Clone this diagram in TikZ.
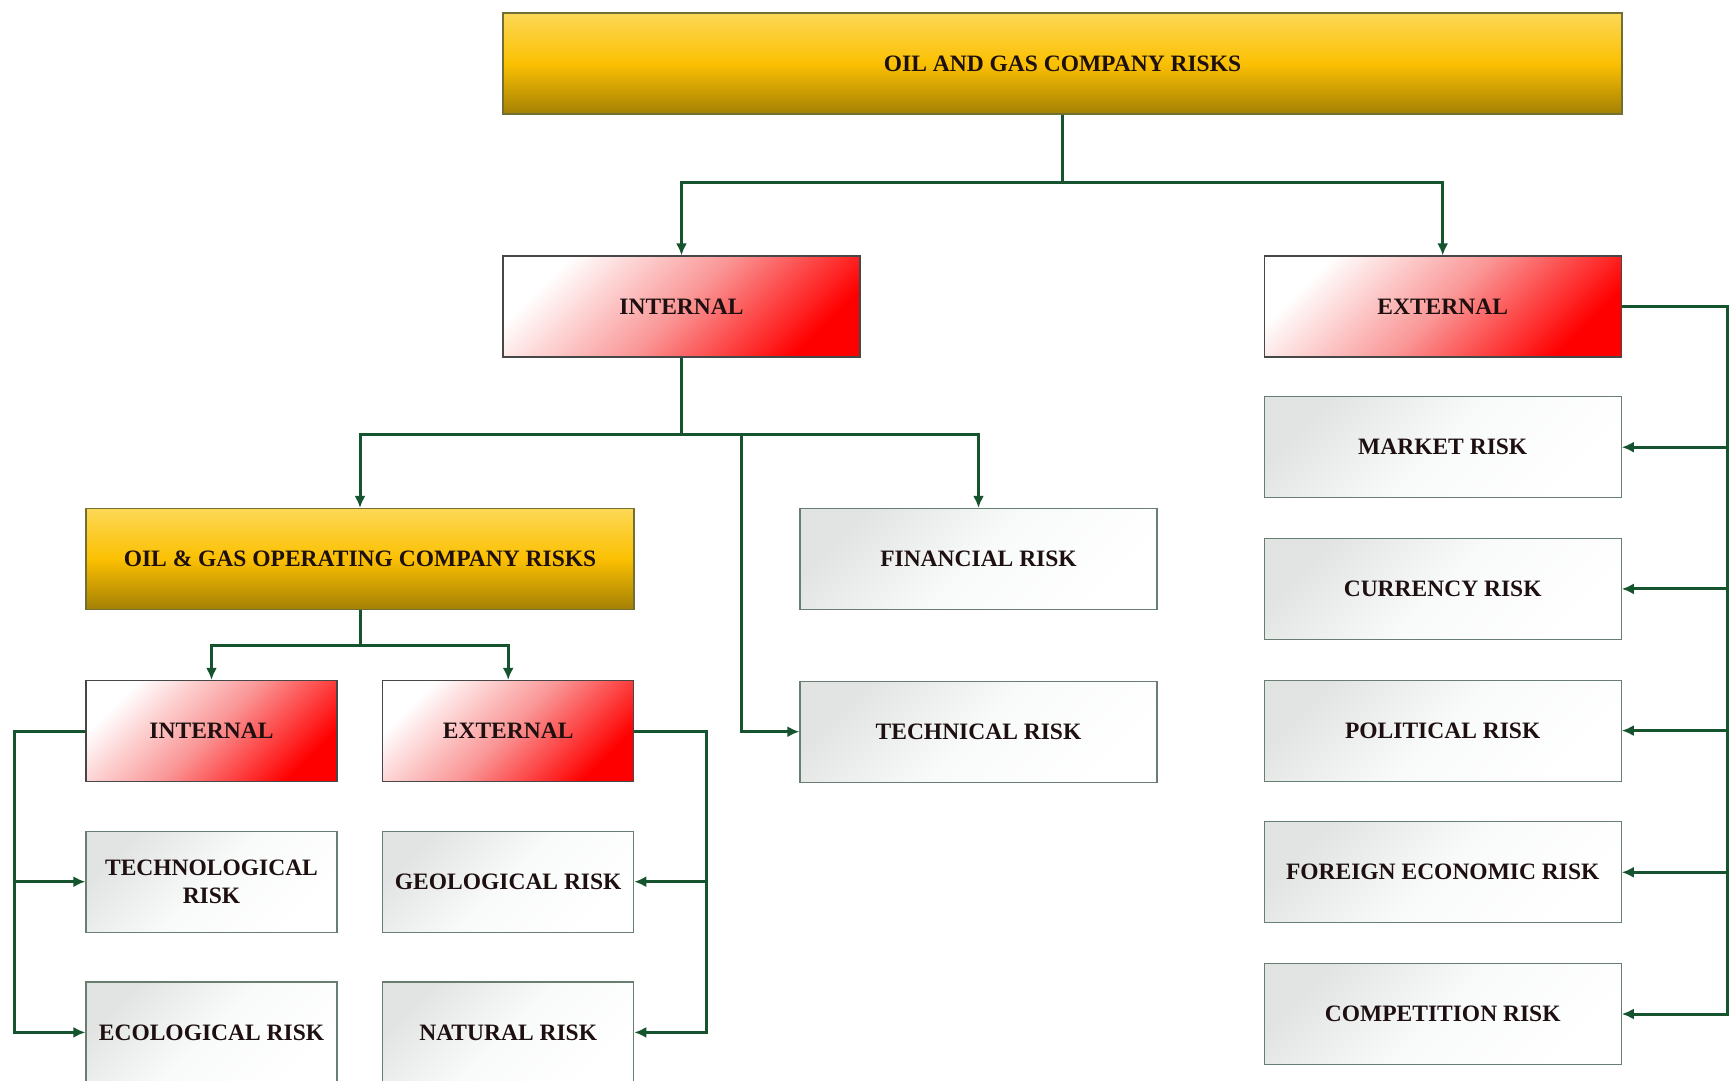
\documentclass[tikz,border=0pt]{standalone}
\usepackage{fontspec}
\setmainfont{Liberation Serif}
\usepackage{xcolor}
\usepackage{tikz}
\usetikzlibrary{arrows.meta,positioning}

\definecolor{lnk}{RGB}{22,84,48}
\definecolor{txt}{RGB}{30,16,16}
\definecolor{oroT}{RGB}{253,216,86}
\definecolor{oroM}{RGB}{251,192,2}
\definecolor{oroD}{RGB}{164,128,4}
\definecolor{oroB}{RGB}{112,112,52}
\definecolor{rojM}{RGB}{250,150,150}
\definecolor{griT}{RGB}{226,228,228}
\definecolor{griM}{RGB}{249,250,250}
\definecolor{griB}{RGB}{104,126,112}

\begin{document}
\begin{tikzpicture}[x=1pt,y=1pt,
  caja/.style={rectangle,align=center,inner sep=2pt,minimum height=101pt,
               line width=1.2pt,text=txt,font=\fontsize{23.5}{27.6}\selectfont\bfseries},
  oro/.style={caja,draw=oroB,top color=oroT,bottom color=oroD,middle color=oroM},
  roj/.style={caja,draw=black!72,minimum width=357pt,
              top color=white,bottom color=red,middle color=rojM,shading angle=45},
  gri/.style={caja,draw=griB,minimum width=357pt,
              top color=griT,bottom color=white,middle color=griM,shading angle=45},
  peq/.style={minimum width=251pt},
  fl/.style={-{Latex[length=12pt,width=11pt]},line width=3pt,lnk}]

  \path[fill=white,use as bounding box] (0,0) rectangle (1730,-1081);
  \clip (0,0) rectangle (1730,-1081);

  \node[oro,minimum width=1119pt] (ogc) at (1062.5,-63.5) {OIL AND GAS COMPANY RISKS};
  \node[roj] (int) at (681.5,-306.5) {INTERNAL};
  \node[roj,right=403pt of int] (ext) {EXTERNAL};

  \node[gri,below=38.5pt of ext]  (mkt) {MARKET RISK};
  \node[gri,below=39.5pt of mkt]  (cur) {CURRENCY RISK};
  \node[gri,below=39.5pt of cur]  (pol) {POLITICAL RISK};
  \node[gri,below=39.5pt of pol]  (fec) {FOREIGN ECONOMIC RISK};
  \node[gri,below=39.5pt of fec]  (cmp) {COMPETITION RISK};

  \node[oro,minimum width=548pt] (opc) at (360,-559) {OIL \& GAS OPERATING COMPANY RISKS};
  \node[gri] (fin) at (978.5,-559) {FINANCIAL RISK};
  \node[gri,below=70.5pt of fin] (tcn) {TECHNICAL RISK};

  \node[roj,peq] (oin) at (211.5,-731) {INTERNAL};
  \node[roj,peq,right=44.5pt of oin] (oex) {EXTERNAL};
  \node[gri,peq,below=48.5pt of oin] (tgl) {TECHNOLOGICAL\\RISK};
  \node[gri,peq,below=48.5pt of oex] (geo) {GEOLOGICAL RISK};
  \node[gri,peq,below=48.5pt of tgl] (eco) {ECOLOGICAL RISK};
  \node[gri,peq,below=48.5pt of geo] (nat) {NATURAL RISK};

  \coordinate (tb) at (741,-434);

  \draw[fl] (ogc.south) -- ++(0,-68) -| (int.north);
  \draw[fl] (ogc.south) -- ++(0,-68) -| (ext.north);
  \draw[fl] (int.south) -- ++(0,-77) -| (opc.north);
  \draw[fl] (int.south) -- ++(0,-77) -| (fin.north);
  \draw[fl] (tb) |- (tcn.west);
  \draw[fl] (opc.south) -- ++(0,-35) -| (oin.north);
  \draw[fl] (opc.south) -- ++(0,-35) -| (oex.north);
  \draw[fl] (oin.west) -- ++(-71,0) |- (tgl.west);
  \draw[fl] (oin.west) -- ++(-71,0) |- (eco.west);
  \draw[fl] (oex.east) -- ++(72,0) |- (geo.east);
  \draw[fl] (oex.east) -- ++(72,0) |- (nat.east);
  \foreach \r in {mkt,cur,pol,fec,cmp}
    \draw[fl] (ext.east) -- ++(106,0) |- (\r.east);
\end{tikzpicture}
\end{document}
